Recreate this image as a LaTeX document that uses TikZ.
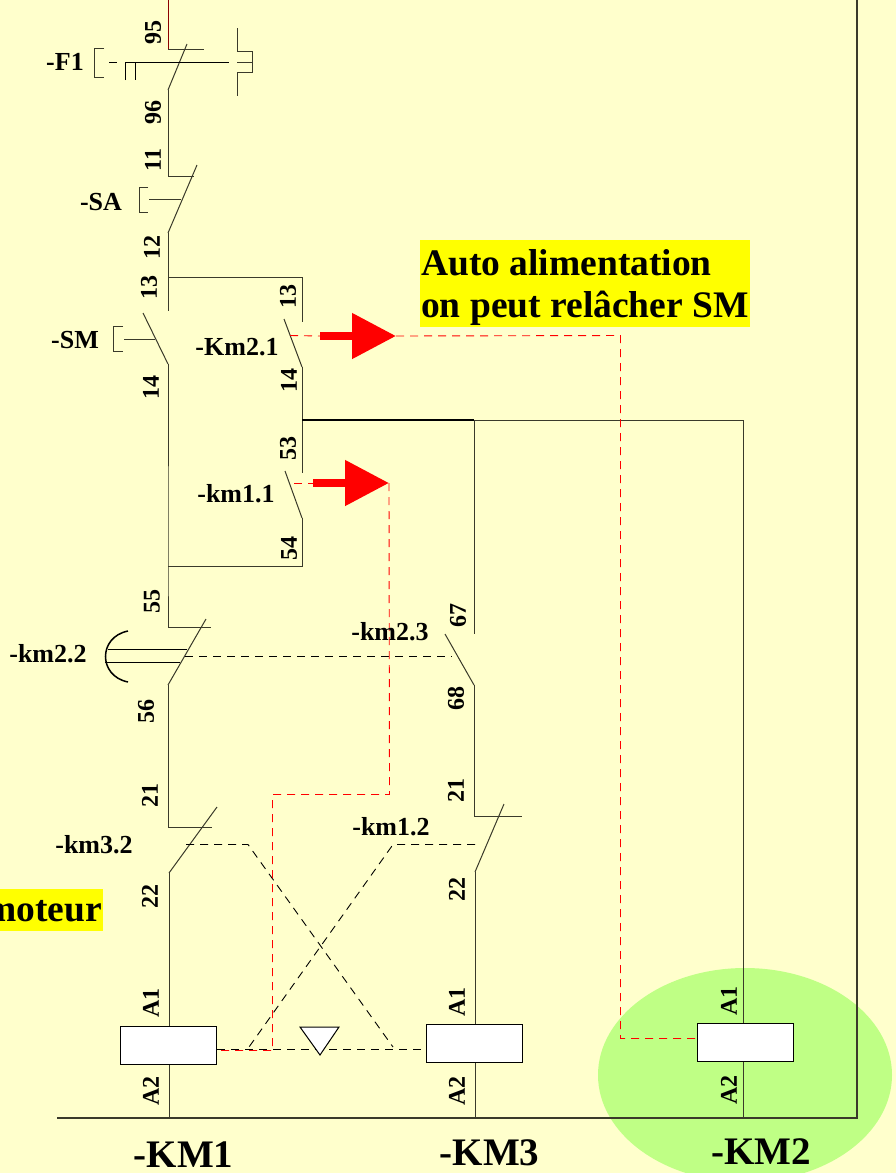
\documentclass[tikz,border=0pt]{standalone}
\usepackage{xcolor}
\usepackage{fontspec}
\setmainfont{Liberation Serif}
\usetikzlibrary{arrows.meta}
\definecolor{paper}{HTML}{FFFFCC}
\definecolor{coilzone}{HTML}{BFFF85}
\definecolor{wirecol}{HTML}{3A3A2A}
\definecolor{notebg}{HTML}{FFFF00}
\tikzset{
  wire/.style={draw=wirecol, line width=1pt},
  link/.style={draw=black, line width=0.9pt, dash pattern=on 8pt off 6pt},
  redlink/.style={draw=red, line width=0.9pt, dash pattern=on 8pt off 6pt},
  bigarrow/.style={draw=red, line width=8pt, -{Triangle[length=44pt, width=44pt]}},
  coil/.style={rectangle, draw=black, fill=white, line width=1pt, minimum width=96pt, minimum height=38pt, inner sep=0pt},
  pin/.style={font=\bfseries\fontsize{24}{24}\selectfont, rotate=90, inner sep=0pt},
  tag/.style={font=\bfseries\fontsize{26}{26}\selectfont, inner sep=0pt},
  coiltag/.style={font=\bfseries\fontsize{39}{39}\selectfont, inner sep=0pt, anchor=base},
  note/.style={font=\bfseries\fontsize{37.5}{42}\selectfont, inner sep=0pt, anchor=base west}
}
\begin{document}
\begin{tikzpicture}[x=1pt, y=-1pt]
\useasboundingbox (0,0) rectangle (896,1173);
\fill [paper] (0,0) rectangle (896,1173);
\fill [coilzone] (745,1075) ellipse [x radius=147, y radius=107];
\fill [notebg] (420,240) rectangle (750,327);
\fill [notebg] (0,888.5) rectangle (103,931);

% coils
\node [coil] (KM1) at (168.5,1045.5) {};
\node [coil] (KM3) at (474,1043.5) {};
\node [coil] (KM2) at (745.5,1042.5) {};

% points of the left branch
\coordinate (top) at (168,0);
\coordinate (f1a) at (168,49);
\coordinate (f1b) at (204,49);
\coordinate (f1c) at (168,90);
\coordinate (f1d) at (187,44);
\coordinate (saa) at (168,176);
\coordinate (sab) at (194,176);
\coordinate (sac) at (168,233);
\coordinate (sad) at (197,165);
\coordinate (tee) at (168,277);
\coordinate (sma) at (168,311);
\coordinate (smb) at (143,313);
\coordinate (smc) at (168,364);
\coordinate (low) at (168,566);
\coordinate (kaa) at (168,627);
\coordinate (kab) at (211,627);
\coordinate (kac) at (168,685);
\coordinate (kad) at (206,619);
\coordinate (kba) at (168,827);
\coordinate (kbb) at (212,827);
\coordinate (kbc) at (169,873);
\coordinate (kbd) at (217,807);
\coordinate (a2a) at (169,1118);

% points of the middle branch
\coordinate (tur) at (302,277);
\coordinate (m2a) at (302,322);
\coordinate (m2b) at (284,319);
\coordinate (m2c) at (302,367);
\coordinate (hub) at (302,420);
\coordinate (m1a) at (302,473);
\coordinate (m1b) at (285,471);
\coordinate (m1c) at (302,518);
\coordinate (lur) at (302,566);

% points of the right branches
\coordinate (hb3) at (474,420);
\coordinate (hb2) at (743,420);
\coordinate (k3a) at (474,634);
\coordinate (k3b) at (445,634);
\coordinate (k3c) at (474,685);
\coordinate (k3d) at (474,816);
\coordinate (k3e) at (522,816);
\coordinate (k3f) at (475,872);
\coordinate (k3g) at (504,804);
\coordinate (a2c) at (475,1118);
\coordinate (a2b) at (743,1118);
\coordinate (railw) at (57,1118);
\coordinate (raile) at (857,1118);
\coordinate (railn) at (857,0);

% wires
\draw [draw=red!55!black, line width=1pt] (top) to (f1a);
\draw [wire] (f1a) to (f1b);
\draw [wire] (f1c) to (f1d);
\draw [wire] (f1c) to (saa) to (sab);
\draw [wire] (sac) to (sad);
\draw [wire] (sac) to (sma);
\draw [wire] (tee) to (tur) to (m2a);
\draw [wire] (smb) to (smc);
\draw [wire] (smc) to (low) to (kaa) to (kab);
\draw [wire] (m2b) to (m2c);
\draw [wire] (m2c) to (m1a);
\draw [wire] (m1b) to (m1c);
\draw [wire] (m1c) to (lur) to (low);
\draw [wire] (kac) to (kad);
\draw [wire] (kac) to (kba) to (kbb);
\draw [wire] (kbc) to (kbd);
\draw [wire] (kbc) to (KM1.north -| kbc);
\draw [wire] (KM1.south -| kbc) to (a2a);
\draw [draw=black, line width=1.4pt] (hub) to (hb3);
\draw [wire] (hb3) to (hb2);
\draw [wire] (hb3) to (k3a);
\draw [wire] (k3b) to (k3c);
\draw [wire] (k3c) to (k3d) to (k3e);
\draw [wire] (k3f) to (k3g);
\draw [wire] (k3f) to (KM3.north -| k3f);
\draw [wire] (KM3.south -| k3f) to (a2c);
\draw [wire] (hb2) to (KM2.north -| hb2);
\draw [wire] (KM2.south -| hb2) to (a2b);
\draw [draw=wirecol, line width=1.3pt] (railw) to (raile) to (railn);

% operators of the contacts
\draw [wire] (104,48) to (94,48) to (94,77) to (104,77);
\draw [draw=black, line width=1pt] (125,80) to (125,62.5) to (135,62.5) to (135,80);
\draw [link] (109,62.5) to (123,62.5);
\draw [draw=black, line width=1pt] (125,62.5) to (229,62.5);
\draw [wire] (237,28) to (237,51) to (252,51) to (252,72) to (237,72) to (237,96);
\draw [wire] (237,62.5) to (252,62.5);
\draw [wire] (148,187) to (139,187) to (139,212) to (148,212);
\draw [wire] (149,199.5) to (181,199.5);
\draw [wire] (123,326) to (113.5,326) to (113.5,351) to (123,351);
\draw [wire] (124,339) to (155,339);
\draw [draw=black, line width=1.5pt] (128,631) .. controls (98,637) and (98,676) .. (128,682);
\draw [draw=black, line width=1pt] (108,649) to (187,649);
\draw [draw=black, line width=1pt] (105,662) to (180,662);

% mechanical links
\coordinate (lka) at (185,656.5);
\coordinate (lkb) at (452,656.5);
\coordinate (lkc) at (186,844.5);
\coordinate (lkd) at (248,844.5);
\coordinate (lke) at (393,1047);
\coordinate (lkf) at (475,844.5);
\coordinate (lkg) at (393,844.5);
\coordinate (lkh) at (249,1047);
\draw [link] (lka) to (lkb);
\draw [link] (lkc) to (lkd) to (lke);
\draw [link] (lkf) to (lkg) to (lkh);

% interlock and its triangle
\coordinate (kmw) at (217,1049.5);
\coordinate (kme) at (425,1049.5);
\draw [link] (kmw) to (kme);
\draw [draw=black, fill=white, line width=1pt] (300,1027) to (339,1027) to (320,1055) -- cycle;

% feedback in red
\coordinate (raa) at (290,335.5);
\coordinate (rab) at (320,336);
\coordinate (rac) at (396,336);
\coordinate (rad) at (620.5,335.5);
\coordinate (rae) at (620.5,1038.5);
\coordinate (rba) at (294,483);
\coordinate (rbb) at (313,483);
\coordinate (rbc) at (389,483);
\coordinate (rbd) at (389.5,794.5);
\coordinate (rbe) at (272.5,794.5);
\coordinate (rbf) at (272.5,1050.5);
\draw [redlink] (raa) to (rab);
\draw [bigarrow] (rab) to (rac);
\draw [redlink] (rac) to (rad) to (rae) to (rae -| KM2.west);
\draw [redlink] (rba) to (rbb);
\draw [bigarrow] (rbb) to (rbc);
\draw [redlink] (rbc) to (rbd) to (rbe) to (rbf) to (rbf -| KM1.east);

% contact numbers
\node [pin] (n95) at (153,32) {95};
\node [pin] (n96) at (153,112) {96};
\node [pin] (n11) at (153,160) {11};
\node [pin] (n12) at (152,247) {12};
\node [pin] (n13) at (149,287) {13};
\node [pin] (n13b) at (288,296) {13};
\node [pin] (n14) at (151,387) {14};
\node [pin] (n14b) at (289,380) {14};
\node [pin] (n53) at (288,448) {53};
\node [pin] (n54) at (289,548) {54};
\node [pin] (n55) at (152,601) {55};
\node [pin] (n56) at (146,711) {56};
\node [pin] (n21) at (150,795) {21};
\node [pin] (n22) at (150,896) {22};
\node [pin] (n67) at (458,615) {67};
\node [pin] (n68) at (456,698) {68};
\node [pin] (n21b) at (456,790) {21};
\node [pin] (n22b) at (457,889) {22};
\node [pin] (a1l) at (151,1003) {A1};
\node [pin] (a2l) at (151,1091) {A2};
\node [pin] (a1m) at (457,1002) {A1};
\node [pin] (a2m) at (457,1091) {A2};
\node [pin] (a1r) at (729,1001) {A1};
\node [pin] (a2r) at (729,1090) {A2};

% contact names
\node [tag] (F1) at (65,62) {-F1};
\node [tag] (SA) at (101,202) {-SA};
\node [tag] (SM) at (75,340) {-SM};
\node [tag] (km21) at (237,347) {-Km2.1};
\node [tag] (km11) at (236,494) {-km1.1};
\node [tag] (km22) at (48,654) {-km2.2};
\node [tag] (km23) at (390,632) {-km2.3};
\node [tag] (km32) at (94,845) {-km3.2};
\node [tag] (km12) at (391,827) {-km1.2};

% coil names
\node [coiltag] (nKM1) at (183.5,1167) {-KM1};
\node [coiltag] (nKM3) at (489.5,1165.5) {-KM3};
\node [coiltag] (nKM2) at (761,1164) {-KM2};

% notes
\node [note] (auto) at (421,275) {Auto alimentation};
\node [note] (relache) at (421,317) {on peut relâcher SM};
\node [note, anchor=base east] (moteur) at (102,921) {moteur};
\end{tikzpicture}
\end{document}
